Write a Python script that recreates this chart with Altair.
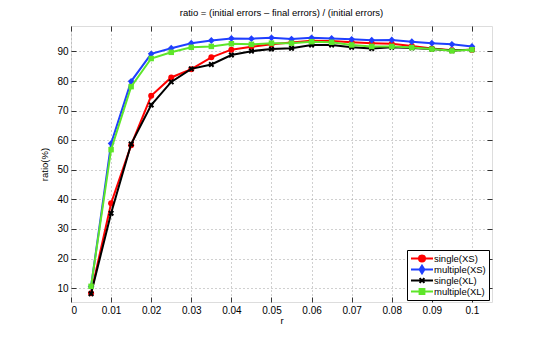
import altair as alt
import pandas as pd

r_values = [0.005, 0.01, 0.015, 0.02, 0.025, 0.03, 0.035, 0.04, 0.045, 0.05,
            0.055, 0.06, 0.065, 0.07, 0.075, 0.08, 0.085, 0.09, 0.095, 0.1]

single_xs = [8.3, 38.7, 58.3, 75.0, 81.2, 84.0, 88.0, 90.6, 91.6, 92.4,
             93.0, 93.6, 93.5, 93.1, 92.8, 92.6, 91.8, 91.0, 90.4, 90.6]
multiple_xs = [10.5, 58.9, 79.9, 89.2, 91.1, 92.8, 93.7, 94.4, 94.3, 94.6,
               94.2, 94.6, 94.4, 94.1, 93.8, 93.9, 93.3, 92.8, 92.4, 91.7]
single_xl = [8.1, 35.3, 58.7, 71.9, 79.7, 84.1, 85.6, 88.8, 90.1, 90.8,
             91.1, 92.2, 92.2, 91.4, 91.0, 91.4, 91.2, 90.8, 90.3, 90.6]
multiple_xl = [10.6, 56.8, 78.1, 87.6, 89.7, 91.4, 91.7, 92.6, 92.4, 92.8,
               92.8, 93.3, 93.1, 92.2, 91.7, 91.7, 91.3, 90.8, 90.2, 90.6]

series_names = ["single(XS)", "multiple(XS)", "single(XL)", "multiple(XL)"]
series_colors = ["#ff0000", "#1f3fff", "#000000", "#5ee62a"]
x_ticks = [0, 0.01, 0.02, 0.03, 0.04, 0.05, 0.06, 0.07, 0.08, 0.09, 0.1]
y_ticks = [10, 20, 30, 40, 50, 60, 70, 80, 90]

values = [single_xs, multiple_xs, single_xl, multiple_xl]
rows = []
for name, vals in zip(series_names, values):
    for rv, v in zip(r_values, vals):
        rows.append({"r": rv, "ratio": v, "series": name})
df = pd.DataFrame(rows)

FONT = "Liberation Sans"
xscale = alt.Scale(domain=[0, 0.105], nice=False, zero=False)
yscale = alt.Scale(domain=[5.3, 98.6], nice=False, zero=False)

x_main = alt.X("r:Q", scale=xscale, axis=alt.Axis(
    values=x_ticks, format="~g", title="r", offset=-5, tickSize=5,
    domain=False, labelPadding=3, grid=True, gridDash=[1, 3],
    gridColor="#a0a0a0", tickColor="#333333", titlePadding=0,
    titleFontWeight="normal", titleFont=FONT, titleFontSize=9.5))
y_main = alt.Y("ratio:Q", scale=yscale, axis=alt.Axis(
    values=y_ticks, title="ratio(%)", offset=-5, tickSize=5,
    domain=False, labelPadding=3, grid=True, gridDash=[1, 3],
    gridColor="#a0a0a0", tickColor="#333333", titlePadding=7,
    titleFontWeight="normal", titleFont=FONT, titleFontSize=9.5))
x_top = alt.X("r:Q", scale=xscale, axis=alt.Axis(
    values=x_ticks, orient="top", labels=False, title=None, offset=-5,
    tickSize=5, domain=False, grid=False, tickColor="#333333"))
y_right = alt.Y("ratio:Q", scale=yscale, axis=alt.Axis(
    values=y_ticks, orient="right", labels=False, title=None, offset=-5,
    tickSize=5, domain=False, grid=False, tickColor="#333333"))
x_none = alt.X("r:Q", scale=xscale, axis=None)
y_none = alt.Y("ratio:Q", scale=yscale, axis=None)

marker_specs = [
    dict(shape="circle", filled=True, size=36),
    dict(shape="diamond", filled=True, size=46),
    dict(shape="M-1,-1L1,1M-1,1L1,-1", filled=False, size=20, strokeWidth=2),
    dict(shape="square", filled=True, size=30),
]

legend_paths = [
    "M-1,0L4.5,0M1.0,0A0.75,0.75 0 1,0 2.5,0A0.75,0.75 0 1,0 1.0,0Z",
    "M-1,0L4.5,0M1.75,-0.95L2.35,0L1.75,0.95L1.15,0Z",
    "M-1,0L4.5,0M1.15,-0.6L2.35,0.6M1.15,0.6L2.35,-0.6",
    "M-1,0L4.5,0M1.15,-0.6L2.35,-0.6L2.35,0.6L1.15,0.6Z",
]

base = alt.Chart(df)
layers = []
for i, (name, col, mk) in enumerate(zip(series_names, series_colors, marker_specs)):
    filt = base.transform_filter(alt.datum.series == name)
    if i == 0:
        lx, ly = x_main, y_main
        px, py = x_top, y_right
    else:
        lx, ly = x_none, y_none
        px, py = x_none, y_none
    line = filt.mark_line(color=col, strokeWidth=2).encode(x=lx, y=ly)
    mkd = dict(mk)
    sw = mkd.pop("strokeWidth", 1)
    pts = filt.mark_point(color=col, opacity=1, strokeWidth=sw, **mkd).encode(x=px, y=py)
    layers.append(line)
    layers.append(pts)

leg = alt.Legend(
    orient="none", legendX=336, legendY=224, title=None, padding=3,
    strokeColor="#000000", fillColor="#ffffff", labelFont=FONT,
    labelFontSize=9.5, labelColor="#000000", symbolSize=64,
    symbolStrokeWidth=2, labelOffset=14, rowPadding=0, symbolOpacity=1,
    clipHeight=11, cornerRadius=0)
color_scale = alt.Scale(domain=series_names, range=series_colors)
legend_layer = base.mark_point(opacity=0, size=64, strokeWidth=2, filled=True).encode(
    x=x_none, y=y_none,
    fill=alt.Fill("series:N", scale=color_scale, legend=leg),
    stroke=alt.Stroke("series:N", scale=color_scale, legend=leg),
    shape=alt.Shape("series:N", scale=alt.Scale(domain=series_names, range=legend_paths), legend=leg),
)
layers.append(legend_layer)

chart = alt.layer(*layers).resolve_axis(x="independent", y="independent").properties(
    width=421, height=276,
    title=alt.TitleParams("ratio = (initial errors \u2013 final errors) / (initial errors)",
                          font=FONT, fontSize=9.5, fontWeight="normal", color="#000000",
                          offset=8, anchor="middle"),
    autosize=alt.AutoSizeParams(type="none"),
    padding={"left": 63, "top": 18, "right": 45, "bottom": 30},
).configure_view(stroke="#333333", strokeWidth=1).configure_axis(
    labelFont=FONT, labelFontSize=9, labelColor="#000000",
    titleFont=FONT, titleFontSize=9.5, titleFontWeight="normal", titleColor="#000000",
).configure(background="white")

chart.save("out.html", embed_options={"renderer": "svg", "actions": False})
